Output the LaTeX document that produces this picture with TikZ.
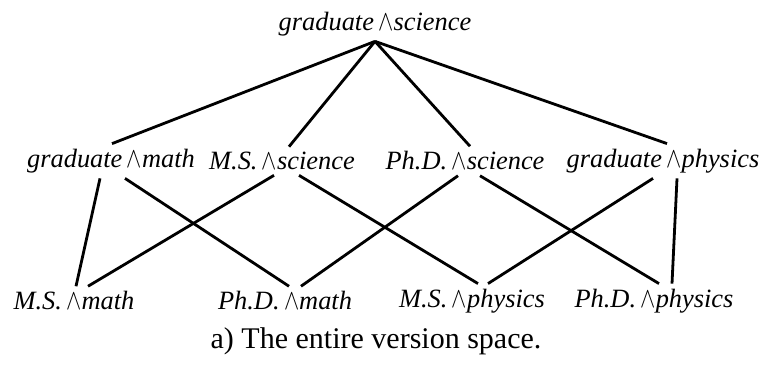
\documentclass[tikz,border=0pt]{standalone}
\usepackage{fontspec}
\setmainfont{Liberation Serif}
\usepackage{tikz}
\newcommand{\wg}{\,\smash{\scalebox{0.95}[1.2]{$\wedge$}}}

\begin{document}
\begin{tikzpicture}[x=0.5pt,y=-0.5pt,
    term/.style={font=\fontsize{13.2}{15}\selectfont\itshape, inner sep=2.5pt},
    conn/.style={line width=1.4pt}]
    \useasboundingbox (0,0) rectangle (763,369);

    \node[term] (gs) at (375,24) {graduate\wg science};

    \node[term] (gm) at (111,161) {graduate\wg math};
    \node[term] (mss) at (282,161) {M.S.\wg science};
    \node[term] (pds) at (465,161) {Ph.D.\wg science};
    \node[term] (gp) at (663,161) {graduate\wg physics};

    \node[term] (msm) at (74,301) {M.S.\wg math};
    \node[term] (pdm) at (285,301) {Ph.D.\wg math};
    \node[term] (msp) at (472,301) {M.S.\wg physics};
    \node[term] (pdp) at (654,301) {Ph.D.\wg physics};

    \node[font=\fontsize{15}{17}\selectfont] (cap) at (376,341) {a) The entire version space.};

    % top level
    \draw[conn] (gs.south) -- ([xshift=0.5pt]gm.north);
    \draw[conn] (gs.south) -- ([xshift=3.5pt]mss.north);
    \draw[conn] (gs.south) -- ([xshift=2.5pt]pds.north);
    \draw[conn] (gs.south) -- ([xshift=2pt]gp.north);

    % middle to bottom
    \draw[conn] ([xshift=-5.5pt]gm.south) -- ([xshift=1pt]msm.north);
    \draw[conn] ([xshift=7pt]gm.south) -- ([xshift=2pt]pdm.north);
    \draw[conn] ([xshift=-4pt]mss.south) -- ([xshift=7pt]msm.north);
    \draw[conn] ([xshift=8.5pt]mss.south) -- ([xshift=3pt]msp.north);
    \draw[conn] ([xshift=-3.5pt]pds.south) -- ([xshift=8pt]pdm.north);
    \draw[conn] ([xshift=7.5pt]pds.south) -- ([xshift=2.5pt]pdp.north);
    \draw[conn] ([xshift=-5pt]gp.south) -- ([xshift=8pt]msp.north);
    \draw[conn] ([xshift=7pt]gp.south) -- ([xshift=9pt]pdp.north);
\end{tikzpicture}
\end{document}
